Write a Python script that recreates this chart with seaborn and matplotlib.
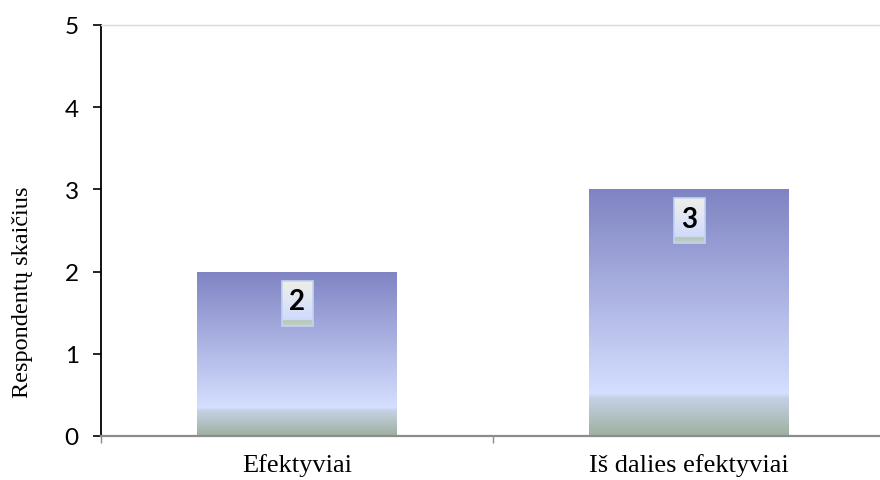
import matplotlib
matplotlib.use('Agg')
import matplotlib.pyplot as plt
from matplotlib.colors import LinearSegmentedColormap
from matplotlib.patches import Rectangle
import numpy as np
import seaborn as sns

sns.set_theme(style='white')

categories = ['Efektyviai', 'Iš dalies efektyviai']
values = [2, 3]
y_label = 'Respondentų skaičius'

# Bar fill: blue-violet at the top, pale near the bottom, grey-green foot
bar_cmap = LinearSegmentedColormap.from_list('bar', [
    (0.0, '#7f83c3'),
    (0.83, '#d5dfff'),
    (0.845, '#c6d1e6'),
    (1.0, '#9db19f'),
])
# Value box fill: light beige top going to pale blue, green stripe at the bottom
box_cmap = LinearSegmentedColormap.from_list('box', [
    (0.0, '#efefe6'),
    (0.5, '#dde4f6'),
    (0.86, '#d0dbfb'),
    (0.88, '#b6c6b8'),
    (1.0, '#c4d2c6'),
])

W, H = 880, 481
fig = plt.figure(figsize=(W / 100, H / 100), dpi=100)
ax = fig.add_axes([101 / W, 44 / H, 784 / W, 411 / H])

sns.barplot(x=categories, y=values, width=0.51, color='#a0a8e0', ax=ax)

xlim = (-0.5, len(categories) - 0.5)
ylim = (0, 5)

# pixel -> data scale for the little value boxes
px_x = (xlim[1] - xlim[0]) / 784
px_y = (ylim[1] - ylim[0]) / 411
grad = np.linspace(0, 1, 256).reshape(-1, 1)

for patch, val in zip(ax.patches, values):
    x0, y0 = patch.get_x(), patch.get_y()
    w, h = patch.get_width(), patch.get_height()
    patch.set_facecolor('none')
    patch.set_edgecolor('none')
    im = ax.imshow(grad, cmap=bar_cmap, aspect='auto', origin='upper',
                   extent=[x0, x0 + w, y0, y0 + h], zorder=2)
    im.set_clip_path(patch)

    cx = x0 + w / 2
    bw, bh = 31 * px_x, 45 * px_y
    top = val - 9 * px_y
    ax.imshow(grad, cmap=box_cmap, aspect='auto', origin='upper',
              extent=[cx - bw / 2, cx + bw / 2, top - bh, top], zorder=3)
    ax.add_patch(Rectangle((cx - bw / 2, top - bh), bw, bh, fill=False,
                           edgecolor='#c2d4ee', linewidth=1.2, zorder=4))
    ax.text(cx, top - bh * 0.46, str(val), ha='center', va='center',
            fontsize=20, fontweight='bold', family=['Lato', 'DejaVu Sans'],
            color='black', zorder=5)

ax.set_xlim(*xlim)
ax.set_ylim(*ylim)

ax.set_yticks(range(0, 6))
ax.set_yticklabels([str(v) for v in range(0, 6)], family=['Lato', 'DejaVu Sans'],
                   fontsize=17.5, color='black')
ax.tick_params(axis='y', left=True, length=6, width=1.2, color='black', pad=10)

ax.set_xticks(range(len(categories)))
ax.set_xticklabels(categories, family=['Liberation Serif', 'DejaVu Serif'],
                   fontsize=19, color='black')
ax.set_xticks(np.arange(-0.5, len(categories)), minor=True)
ax.tick_params(axis='x', which='major', bottom=True, length=0, pad=12)
ax.tick_params(axis='x', which='minor', bottom=True, length=5, width=1,
               color='#8c8c8c')

ax.set_ylabel(y_label, family=['Liberation Serif', 'DejaVu Serif'],
              fontsize=17.5, color='black')
ax.yaxis.set_label_coords(-0.087, 0.353)

ax.spines['left'].set_color('black')
ax.spines['left'].set_linewidth(1.3)
ax.spines['bottom'].set_color('#8c8c8c')
ax.spines['bottom'].set_linewidth(1.6)
ax.spines['top'].set_color('#dadada')
ax.spines['top'].set_linewidth(1)
ax.spines['right'].set_visible(False)

fig.savefig('out.png', dpi=100)
